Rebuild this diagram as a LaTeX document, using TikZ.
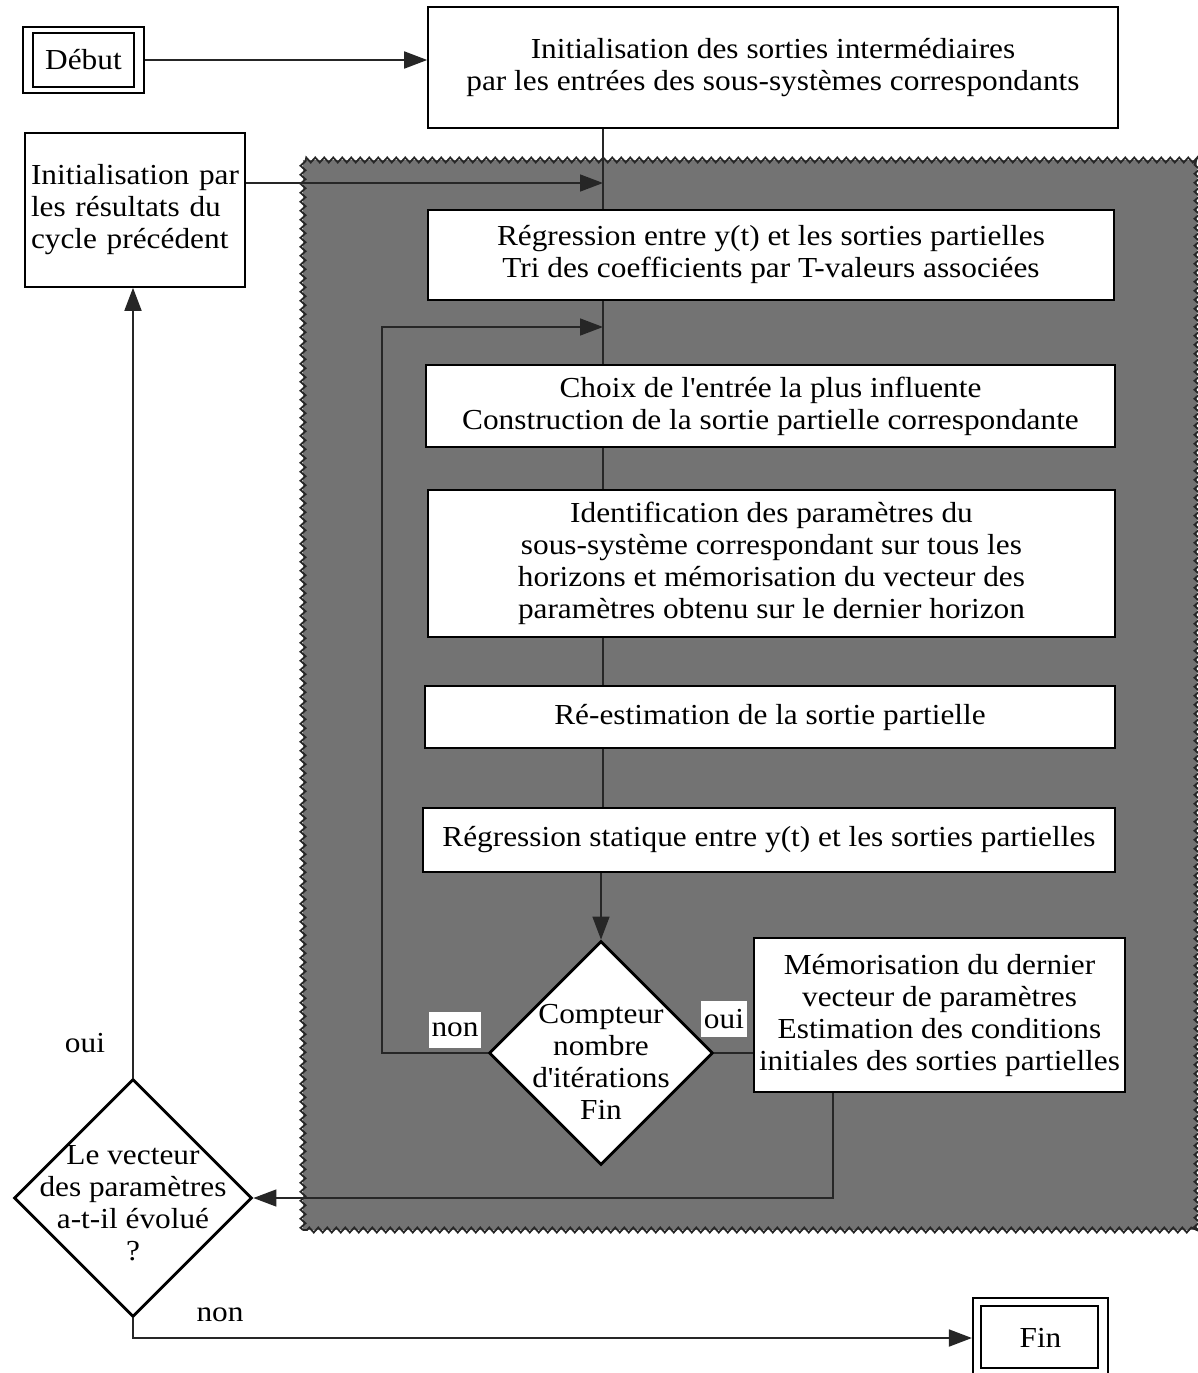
\documentclass[tikz,border=0pt]{standalone}
\usepackage{fontspec}
\setmainfont{Liberation Serif}[FakeStretch=1.08]
\usetikzlibrary{arrows.meta,shapes.geometric,decorations.pathmorphing,calc}
\begin{document}
\begin{tikzpicture}[x=1pt,y=-1pt,
  font=\fontsize{29}{32}\selectfont,
  >={Triangle[length=23pt,width=17pt]},
  box/.style={draw=black, fill=white, line width=1.6pt, align=center, inner sep=0pt},
  dblbox/.style={draw=black, fill=white, line width=2.2pt, inner sep=0pt},
  dia/.style={diamond, aspect=1, draw=black, fill=white, line width=2.8pt, inner sep=0pt},
  lab/.style={fill=white, inner sep=3pt, minimum height=36pt},
  conn/.style={draw=black!85, line width=1.8pt},
  inconn/.style={draw=black!85, line width=1.5pt},
  zone/.style={fill=black!55},
  zoneedge/.style={decorate, decoration={zigzag, segment length=9pt, amplitude=2.5pt}, draw=black!85, line width=1.8pt}
]
\useasboundingbox (0,0) rectangle (1197,1373);

% shaded zone
\fill[zone] (303,160) rectangle (1197,1230);
\draw[zoneedge] (303,1230) -- (303,160) -- (1197,160) -- (1197,1230) -- cycle;

% start
\node[dblbox, minimum width=121pt, minimum height=66pt] (deb) at (83.5,60) {Début};
\draw[line width=2.2pt] ($(deb.north west)+(11,7)$) rectangle ($(deb.south east)+(-11,-7)$);

% boxes
\node[box, minimum width=690pt, minimum height=121pt] (b1) at (773,67.5)
  {Initialisation des sorties intermédiaires\\par les entrées des sous-systèmes correspondants};
\node[box, align=left, text width=208pt, minimum width=220pt, minimum height=154pt] (ip) at (135,210)
  {Initialisation par\\les résultats du\\cycle précédent};
\node[box, minimum width=686pt, minimum height=90pt] (b2) at (771,255)
  {Régression entre y(t) et les sorties partielles\\Tri des coefficients par T-valeurs associées};
\node[box, minimum width=689pt, minimum height=82pt] (b3) at (770.5,406)
  {Choix de l\textquotesingle entrée la plus influente\\Construction de la sortie partielle correspondante};
\node[box, minimum width=687pt, minimum height=147pt] (b4) at (771.5,563.5)
  {Identification des paramètres du\\sous-système correspondant sur tous les\\horizons et mémorisation du vecteur des\\paramètres obtenu sur le dernier horizon};
\node[box, minimum width=690pt, minimum height=62pt] (b5) at (770,717)
  {Ré-estimation de la sortie partielle};
\node[box, minimum width=692pt, minimum height=64pt] (b6) at (769,840)
  {Régression statique entre y(t) et les sorties partielles};
\node[box, minimum width=371pt, minimum height=154pt] (memo) at (939.5,1015)
  {Mémorisation du dernier\\vecteur de paramètres\\Estimation des conditions\\initiales des sorties partielles};

% diamonds
\node[dia, minimum width=224pt, minimum height=224pt] (d1) at (601,1053) {};
\node[align=center, inner sep=0pt] (d1t) at (601,1062) {Compteur\\nombre\\d\textquotesingle itérations\\Fin};
\node[dia, minimum width=238pt, minimum height=238pt] (d2) at (133,1198) {};
\node[align=center, inner sep=0pt] (d2t) at (133,1203) {Le vecteur\\des paramètres\\a-t-il évolué\\?};

% end
\node[dblbox, minimum width=135pt, minimum height=80pt] (fin) at (1040.5,1338) {Fin};
\draw[line width=2.2pt] ($(fin.north west)+(9,9)$) rectangle ($(fin.south east)+(-11,-11)$);

% junction points
\coordinate (m1) at (603,183);
\coordinate (m2) at (603,327);
\coordinate (lp) at (382,327);
\coordinate (mc) at (833,1198);

% connectors
\draw[conn,->] (deb.east) -- (deb.east -| b1.west);
\draw[inconn] (b1.south -| m1) -- (b2.north -| m1);
\draw[inconn,->] (ip.east |- m1) -- (m1);
\draw[inconn] (b2.south -| m2) -- (b3.north -| m2);
\draw[inconn] (b3.south -| m2) -- (b4.north -| m2);
\draw[inconn] (b4.south -| m2) -- (b5.north -| m2);
\draw[inconn] (b5.south -| m2) -- (b6.north -| m2);
\draw[inconn,->] (b6.south -| d1.north) -- (d1.north);
\draw[inconn,->] (d1.west) -| (lp) -- (m2);
\draw[inconn] (d1.east) -- (d1.east -| memo.west);
\draw[inconn,->] (memo.south -| mc) -- (mc) -- (d2.east);
\draw[conn,->] (d2.north) -- (ip.south -| d2.north);
\draw[conn,->] (d2.south) |- (fin.west);

% labels
\node[lab] (non1) at (455,1030) {non};
\node[lab] (oui1) at (724,1019) {oui};
\node (oui2) at (85,1043) {oui};
\node (non2) at (220,1315) {non};
\end{tikzpicture}
\end{document}
